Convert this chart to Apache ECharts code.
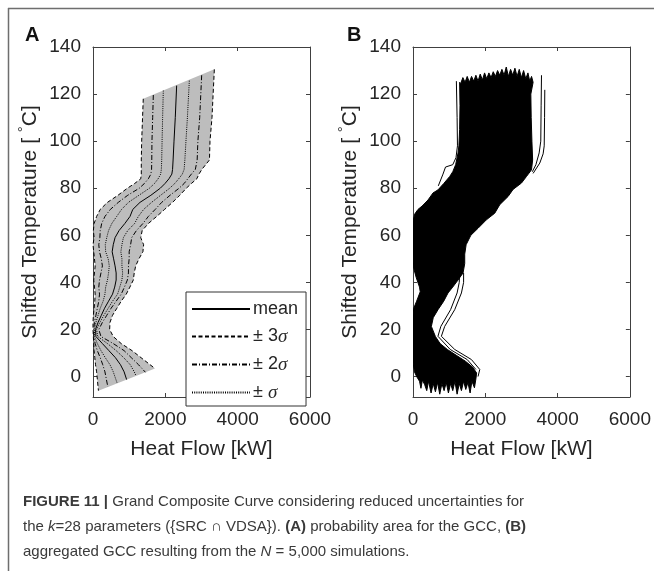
<!DOCTYPE html>
<html>
<head>
<meta charset="utf-8">
<script src="https://cdn.jsdelivr.net/npm/echarts@6/dist/echarts.min.js"></script>
<style>
html,body{margin:0;padding:0;background:#fff;}
#chart{width:654px;height:571px;}
</style>
</head>
<body>
<div id="chart"></div>
<script>
// ---------- Panel A data (Heat flow Q [kW] at shifted temperature levels [°C]) ----------
const tLevels = [110, 100, 92, 88, 86, 84, 82, 80, 77, 74, 71, 68, 65, 62, 59, 56, 53, 50, 47, 44, 41, 38, 35, 32, 29, 26, 23, 20, 17, 14, 11, 8, 5, 2];
const qMinus3 = [1370, 1346, 1335, 1335, 1335, 1320, 1150, 950, 690, 400, 200, 100, 30, 10, 30, 0, 20, 40, 60, 40, 20, 40, 60, 50, 30, 10, 0, 0, 10, 20, 30, 50, 70, 100];
const qMinus2 = [1650, 1630, 1625, 1620, 1600, 1530, 1420, 1280, 960, 700, 480, 330, 240, 200, 190, 160, 180, 230, 260, 220, 180, 160, 180, 160, 120, 80, 40, 20, 20, 60, 120, 200, 270, 330];
const qMinus1 = [1925, 1910, 1900, 1890, 1870, 1800, 1700, 1560, 1270, 980, 790, 655, 520, 430, 380, 340, 350, 420, 450, 430, 400, 350, 330, 280, 200, 140, 80, 40, 40, 120, 220, 340, 470, 560];
const qMean   = [2275, 2240, 2215, 2200, 2180, 2100, 1990, 1860, 1600, 1300, 1100, 1023, 880, 720, 610, 560, 530, 570, 610, 640, 640, 600, 540, 430, 320, 230, 140, 70, 80, 260, 440, 620, 760, 860];
const qPlus1  = [2610, 2570, 2540, 2520, 2470, 2370, 2260, 2120, 1870, 1620, 1400, 1253, 1150, 960, 840, 800, 770, 800, 800, 820, 800, 740, 680, 540, 420, 300, 190, 100, 130, 400, 640, 850, 1030, 1140];
const qPlus2  = [2950, 2900, 2880, 2830, 2720, 2620, 2520, 2380, 2130, 1900, 1720, 1530, 1380, 1200, 1070, 1040, 1000, 1000, 980, 980, 950, 870, 780, 640, 500, 380, 260, 160, 220, 560, 860, 1060, 1260, null];
const qPlus3  = [3290, 3235, 3220, 3010, 2930, 2870, 2720, 2580, 2400, 2200, 1980, 1760, 1530, 1360, 1320, 1400, 1380, 1270, 1180, 1140, 1115, 1020, 920, 780, 660, 540, 470, 460, 560, 780, 1080, 1330, 1580, null];
// curve end points, order: -3σ, -2σ, -σ, mean, +σ, +2σ, +3σ
const topQ = [1390, 1668, 1944, 2313, 2664, 3005, 3355];
const topT = [118, 119.6, 121.5, 123.6, 125.7, 128, 130.5];
const botQ = [150, 410, 670, 930, 1190, 1450, 1714];
const botT = [-6.0, -4.4, -2.9, -1.3, 0.3, 1.8, 3.4];

// ---------- Panel B data: envelope of the 5,000 simulated GCCs + visible stray curves ----------
const bEnvelope = [
  [1290,125],[1300,115],[1290,105],[1270,98],[1246,95],[1180,90],[1100,87],[1016,85],[850,82],[692,79.3],[554,78],[415,75],[250,72.4],[138,71],[47,69],[0,66],[0,52],[20,46],[90,42],[180,38],[200,36],[100,32],[20,29],[0,26],[0,6],[40,2],[100,0],
  [180,-2],[220,-5],[260,-1.5],[324,-3.5],[380,-6],[430,-2],[500,-7],[560,-3],[620,-6.5],[680,-2.5],[740,-7.5],[800,-3],[860,-6],[920,-2.5],[980,-7],[1040,-3],[1100,-6],[1160,-2],[1220,-7.5],[1280,-3],[1340,-6],[1400,-2],[1460,-5.5],[1520,-2.5],[1580,-7],[1630,-2],[1700,-4.8],[1740,-1],[1760,1.5],
  [1650,4],[1450,6.5],[1200,9],[950,11.5],[750,14],[620,17],[508,21.3],[560,25],[692,28.4],[850,32],[969,35.5],[1100,38],[1246,41],[1385,44],[1431,48],[1431,52],[1470,56],[1600,60],[1800,63],[2032,66.6],[2262,69.4],[2400,73],[2631,76.5],[2769,79.5],[3001,82.2],[3140,85],[3278,87.8],[3310,92],[3290,100],[3270,110],[3260,120],[3323,125],
  [3280,127.5],[3230,125.5],[3180,129],[3120,126.5],[3060,130],[3000,127],[2940,130.5],[2880,127.5],[2820,131],[2760,128],[2700,130.5],[2640,127.5],[2580,131.5],[2520,128],[2460,130.5],[2400,128],[2340,130],[2280,127.5],[2220,129.5],[2160,127],[2100,129],[2040,126.5],[1980,129],[1920,126],[1860,128.5],[1800,125.5],[1740,128],[1680,125.5],[1620,127.5],[1560,125],[1500,127.5],[1440,125],[1380,127],[1320,124.5]
];
const bStray1 = [[3646,121.8],[3640,110],[3630,98],[3600,94.6],[3508,90.7],[3323,86.3]];
const bStray2 = [[3555,128],[3545,115],[3535,100],[3490,95],[3400,90],[3300,87]];
const bStray3 = [[1200,125.5],[1220,110],[1230,98],[1190,93],[1100,90],[900,89],[830,86],[700,81]];
const bStray4 = [[1400,44],[1400,40],[1340,35.5],[1154,28.4],[877,21.3],[785,17.1],[1154,11.5],[1617,7.2],[1847,3],[1800,0]];
const bStray5 = [[1290,44],[1280,40],[1220,35.5],[1040,28.4],[770,21.3],[690,17.1],[1030,11.5],[1500,7.2],[1740,3]];

// ---------- axis tick labels ----------
const xTicks = [0, 2000, 4000, 6000];
const yTicks = [0, 20, 40, 60, 80, 100, 120, 140];
const yMin = -8.7, yMax = 140;

// ---------- build ----------
function curve(i, qs) {
  const pts = [[topQ[i], topT[i]]];
  tLevels.forEach((t, k) => { if (qs[k] != null) pts.push([qs[k], t]); });
  pts.push([botQ[i], botT[i]]);
  return pts;
}
const curves = [qMinus3, qMinus2, qMinus1, qMean, qPlus1, qPlus2, qPlus3].map((q, i) => curve(i, q));
const bandPoly = curves[0].concat(curves[6].slice().reverse());

const FONT = 'Liberation Sans, Arial, sans-serif';
const AX = '#404040';
function xAxes(grid) {
  return [
    { type:'value', gridIndex:grid, position:'bottom', min:xTicks[0], max:xTicks[xTicks.length-1], interval:2000,
      axisLine:{show:true, onZero:false, lineStyle:{color:AX, width:1}}, axisTick:{show:true, inside:true, length:4, lineStyle:{color:AX}},
      axisLabel:{show:true, margin:13, fontSize:19, color:'#262626', fontFamily:FONT, formatter: v => String(v)}, splitLine:{show:false},
      name:'Heat Flow [kW]', nameLocation:'middle', nameGap:42, nameTextStyle:{fontSize:21, color:'#262626', fontFamily:FONT} },
    { type:'value', gridIndex:grid, position:'top', min:xTicks[0], max:xTicks[xTicks.length-1], interval:2000,
      axisLine:{show:true, onZero:false, lineStyle:{color:AX, width:1}}, axisTick:{show:true, inside:true, length:4, lineStyle:{color:AX}},
      axisLabel:{show:false}, splitLine:{show:false} }
  ];
}
function yAxes(grid) {
  return [
    { type:'value', gridIndex:grid, position:'left', min:yMin, max:yMax,
      axisLine:{show:true, onZero:false, lineStyle:{color:AX, width:1}},
      axisTick:{show:true, inside:true, length:4, lineStyle:{color:AX}, customValues:yTicks},
      axisLabel:{show:true, margin:12, fontSize:19, color:'#262626', fontFamily:FONT, customValues:yTicks, formatter: v => String(v)}, splitLine:{show:false},
      name:'Shifted Temperature [ {sup|°}C]', nameLocation:'middle', nameGap:48, nameRotate:90,
      nameTextStyle:{fontSize:21, color:'#262626', fontFamily:FONT, rich:{sup:{fontSize:15, color:'#262626', fontFamily:FONT, padding:[0,0,14,0]}}} },
    { type:'value', gridIndex:grid, position:'right', min:yMin, max:yMax,
      axisLine:{show:true, onZero:false, lineStyle:{color:AX, width:1}},
      axisTick:{show:true, inside:true, length:4, lineStyle:{color:AX}, customValues:yTicks},
      axisLabel:{show:false}, splitLine:{show:false} }
  ];
}

function polySeries(data, xi, yi, fill, stroke) {
  return {
    type:'custom', name:'area'+xi, xAxisIndex:xi, yAxisIndex:yi, silent:true, z:1, clip:true,
    data:[[0,0]],
    renderItem: function(params, api) {
      const pts = data.map(p => api.coord(p));
      return { type:'polygon', shape:{points:pts}, style:{fill:fill, stroke:stroke, lineWidth:stroke ? 1 : 0} };
    }
  };
}

const styles = [
  {name:'± 3σ', type:[4,2.5]},
  {name:'± 2σ', type:[5,2,1,2]},
  {name:'± σ', type:[1,1.2]},
  {name:'mean', type:'solid'},
  {name:'± σ', type:[1,1.2]},
  {name:'± 2σ', type:[5,2,1,2]},
  {name:'± 3σ', type:[4,2.5]}
];
const series = [polySeries(bandPoly, 0, 0, '#bdbdbd', null)];
curves.forEach((c, i) => {
  series.push({ type:'line', name:styles[i].name, xAxisIndex:0, yAxisIndex:0, data:c, symbol:'none', z:3,
    lineStyle:{color:'#000', width:1, type:styles[i].type}, itemStyle:{color:'#000'} });
});
series.push(polySeries(bEnvelope, 2, 2, '#000', '#000'));
[bStray1, bStray2, bStray3, bStray4, bStray5].forEach((s, i) => {
  series.push({ type:'line', name:'sim'+i, xAxisIndex:2, yAxisIndex:2, data:s, symbol:'none', z:3,
    lineStyle:{color:'#000', width:1}, itemStyle:{color:'#000'} });
});

const option = {
  animation:false,
  backgroundColor:'#fff',
  grid:[
    {left:93, top:47, width:217, height:350},
    {left:413, top:47, width:217, height:350}
  ],
  xAxis: xAxes(0).concat(xAxes(1)),
  yAxis: yAxes(0).concat(yAxes(1)),
  legend:{
    data:['mean','± 3σ','± 2σ','± σ'],
    orient:'vertical', left:186, top:292,
    itemWidth:58, itemHeight:14, itemGap:9,
    padding:[8,8,4,5],
    borderColor:'#333', borderWidth:1, borderRadius:0,
    backgroundColor:'#fff',
    selectedMode:false,
    itemStyle:{color:'rgba(0,0,0,0)', borderWidth:0, opacity:0},
    formatter: function(name) {
      if (name === 'mean') return '{t|mean}';
      const k = name.replace('± ','').replace('σ','');
      return '{t|± ' + k + '}{s|σ}';
    },
    textStyle:{ fontSize:18, color:'#262626', fontFamily:FONT, padding:[0,0,0,-2],
      rich:{ t:{fontSize:18, color:'#262626', fontFamily:FONT, lineHeight:18},
             s:{fontSize:19, color:'#262626', fontFamily:'Liberation Serif, serif', fontStyle:'italic', lineHeight:18} } }
  },
  series: series,
  graphic:[
    {type:'line', shape:{x1:8, y1:8.5, x2:654, y2:8.5}, style:{stroke:'#6e6e6e', lineWidth:1.5}, silent:true},
    {type:'line', shape:{x1:8.5, y1:8, x2:8.5, y2:571}, style:{stroke:'#6e6e6e', lineWidth:1.5}, silent:true},
    {type:'text', left:25, top:25, style:{text:'A', font:'bold 20px Liberation Sans, Arial, sans-serif', fill:'#111'}},
    {type:'text', left:347, top:25, style:{text:'B', font:'bold 20px Liberation Sans, Arial, sans-serif', fill:'#111'}},
    {type:'text', left:23, top:494, style:{
      text:'{b|FIGURE 11 |} Grand Composite Curve considering reduced uncertainties for',
      font:'15px Liberation Sans, Arial, sans-serif', fill:'#3a3a3a',
      rich:{b:{fontWeight:'bold', fontSize:15, fontFamily:FONT, color:'#1a1a1a'}} }},
    {type:'text', left:23, top:519, style:{
      text:'the {i|k}=28 parameters ({SRC ∩ VDSA}). {b|(A)} probability area for the GCC, {b|(B)}',
      font:'15px Liberation Sans, Arial, sans-serif', fill:'#3a3a3a',
      rich:{b:{fontWeight:'bold', fontSize:15, fontFamily:FONT, color:'#1a1a1a'}, i:{fontStyle:'italic', fontSize:15, fontFamily:FONT, color:'#3a3a3a'}} }},
    {type:'text', left:23, top:544, style:{
      text:'aggregated GCC resulting from the {i|N} = 5,000 simulations.',
      font:'15px Liberation Sans, Arial, sans-serif', fill:'#3a3a3a',
      rich:{i:{fontStyle:'italic', fontSize:15, fontFamily:FONT, color:'#3a3a3a'}} }}
  ]
};
const chart = echarts.init(document.getElementById('chart'), null, {renderer:'canvas'});
chart.setOption(option);
</script>
</body>
</html>
